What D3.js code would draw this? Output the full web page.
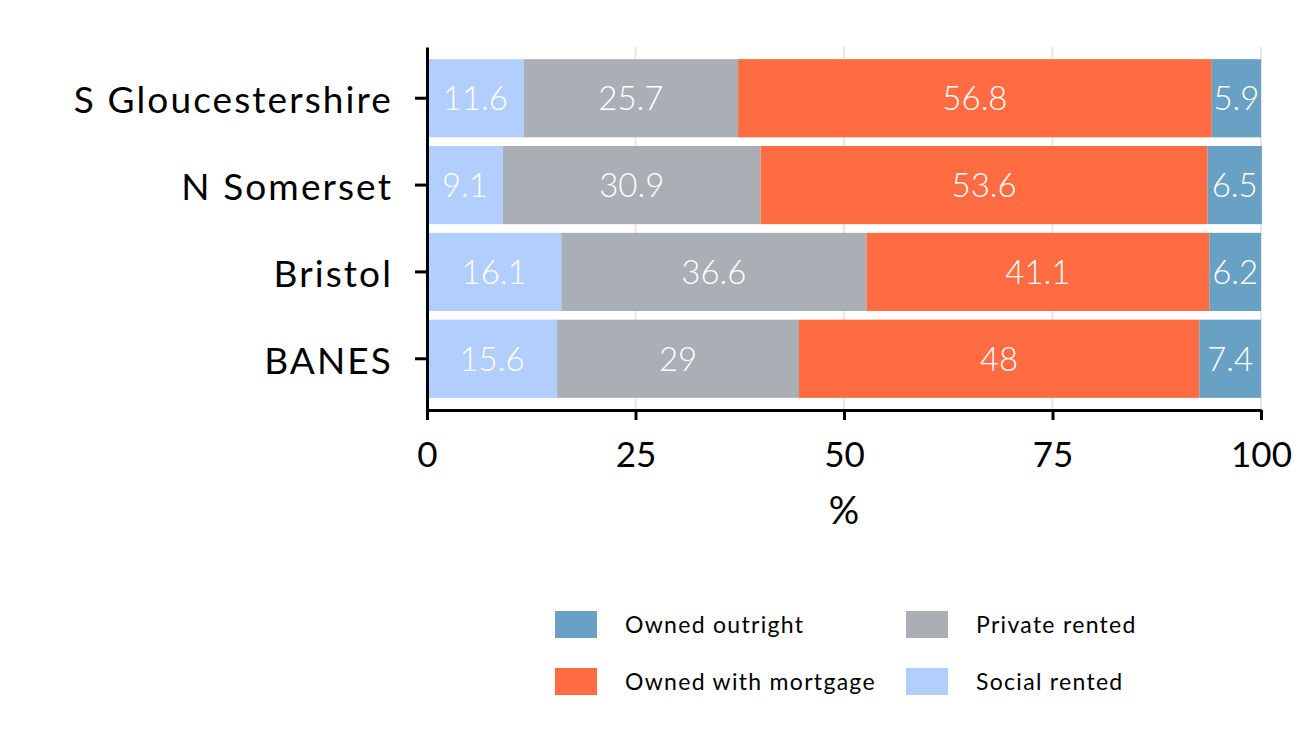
<!DOCTYPE html>
<html>
<head>
<meta charset="utf-8">
<script src="https://cdn.jsdelivr.net/npm/d3@7"></script>
<style>
  body { margin: 0; background: #fff; }
  text { font-family: Lato, "Noto Sans", sans-serif; }
</style>
</head>
<body>
<div id="chart"></div>
<script>
// data
var areas = ["S Gloucestershire", "N Somerset", "Bristol", "BANES"];
var tenures = ["Social rented", "Private rented", "Owned with mortgage", "Owned outright"];
var socialRented = [11.6, 9.1, 16.1, 15.6];
var privateRented = [25.7, 30.9, 36.6, 29];
var ownedMortgage = [56.8, 53.6, 41.1, 48];
var ownedOutright = [5.9, 6.5, 6.2, 7.4];
var xTicks = [0, 25, 50, 75, 100];
var legendOrder = ["Owned outright", "Private rented", "Owned with mortgage", "Social rented"];

var colors = {
  "Social rented": "#b1cefc",
  "Private rented": "#aaaeb5",
  "Owned with mortgage": "#ff6c42",
  "Owned outright": "#68a1c3"
};

var W = 1298, H = 753;
var margin = {top: 47, left: 427, right: 37, bottom: 343};

var svg = d3.select("#chart").append("svg")
  .attr("width", W)
  .attr("height", H);

// build rows for stacking
var rows = areas.map(function(a, i) {
  return {
    area: a,
    "Social rented": socialRented[i],
    "Private rented": privateRented[i],
    "Owned with mortgage": ownedMortgage[i],
    "Owned outright": ownedOutright[i]
  };
});
var series = d3.stack().keys(tenures)(rows);

var x = d3.scaleLinear()
  .domain([0, 100])
  .range([margin.left, W - margin.right]);

var y = d3.scaleBand()
  .domain(areas)
  .range([margin.top, H - margin.bottom])
  .paddingInner(0.1)
  .paddingOuter(0.14);

// gridlines
svg.append("g")
  .selectAll("line")
  .data(xTicks.slice(1))
  .enter().append("line")
  .attr("x1", function(d) { return x(d); })
  .attr("x2", function(d) { return x(d); })
  .attr("y1", margin.top)
  .attr("y2", H - margin.bottom)
  .attr("stroke", "#e9e5e5")
  .attr("stroke-width", 2);

// bars
var groups = svg.append("g")
  .selectAll("g")
  .data(series)
  .enter().append("g")
  .attr("fill", function(d) { return colors[d.key]; });

groups.selectAll("rect")
  .data(function(d) { return d; })
  .enter().append("rect")
  .attr("x", function(d) { return x(d[0]); })
  .attr("width", function(d) { return x(d[1]) - x(d[0]); })
  .attr("y", function(d) { return y(d.data.area); })
  .attr("height", y.bandwidth());

// value labels
groups.selectAll("text")
  .data(function(d) { return d.map(function(v) { v.key = d.key; return v; }); })
  .enter().append("text")
  .attr("x", function(d) { return (x(d[0]) + x(d[1])) / 2; })
  .attr("y", function(d) { return y(d.data.area) + y.bandwidth() / 2; })
  .attr("dy", "0.36em")
  .attr("text-anchor", "middle")
  .attr("fill", "#fff")
  .style("font-size", "33px")
  .style("font-weight", 300)
  .text(function(d) { return d.data[d.key]; });

// axes
var xAxis = svg.append("g")
  .attr("transform", "translate(0," + (H - margin.bottom) + ")")
  .call(d3.axisBottom(x).tickValues(xTicks).tickSize(10).tickSizeOuter(0).tickPadding(22));

var yAxis = svg.append("g")
  .attr("transform", "translate(" + margin.left + ",0)")
  .call(d3.axisLeft(y).tickSize(12).tickSizeOuter(0).tickPadding(22));

[xAxis, yAxis].forEach(function(ax) {
  ax.select(".domain").attr("stroke", "#000").attr("stroke-width", 3);
  ax.selectAll(".tick line").attr("stroke", "#000").attr("stroke-width", 3);
  ax.selectAll("text")
    .attr("fill", "#000")
    .style("font-family", "Lato, sans-serif")
    .style("font-size", "35px");
});
yAxis.selectAll("text")
  .attr("dy", "0.4em")
  .style("font-size", "37px")
  .style("letter-spacing", "2.1px");

// x axis title
svg.append("text")
  .attr("x", x(50))
  .attr("y", 524)
  .attr("text-anchor", "middle")
  .style("font-size", "38px")
  .text("%");

// legend
var legend = svg.append("g");
var legItems = legend.selectAll("g")
  .data(legendOrder)
  .enter().append("g")
  .attr("transform", function(d, i) {
    return "translate(" + (555 + (i % 2) * 351) + "," + (611 + Math.floor(i / 2) * 57) + ")";
  });
legItems.append("rect")
  .attr("width", 42)
  .attr("height", 27)
  .attr("fill", function(d) { return colors[d]; });
legItems.append("text")
  .attr("x", 70)
  .attr("y", 13.5)
  .attr("dy", "0.36em")
  .style("font-size", "23px")
  .style("letter-spacing", "1.3px")
  .text(function(d) { return d; });
</script>
</body>
</html>
